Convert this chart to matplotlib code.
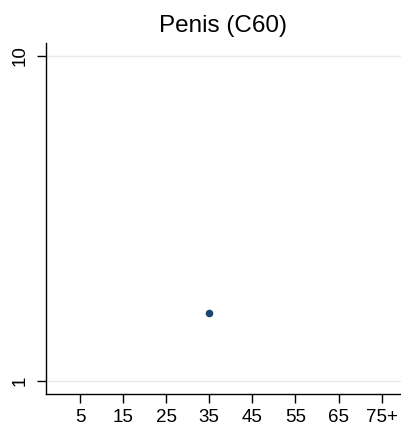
import matplotlib
matplotlib.use("Agg")
import matplotlib.pyplot as plt
from matplotlib.ticker import FixedLocator, NullLocator

plt.rcParams['font.family'] = ['Liberation Sans', 'DejaVu Sans']

# data
age_groups = [35]
rates = [1.62]
x_ticks = [5, 15, 25, 35, 45, 55, 65, 75]
x_labels = ['5', '15', '25', '35', '45', '55', '65', '75+']
y_ticks = [1, 10]

fig = plt.figure(figsize=(4.01, 4.25), dpi=100)
ax = fig.add_axes([0.1135, 0.073, 0.8865, 0.826])

ax.scatter(age_groups, rates, s=30, color='#1a476f', zorder=3, linewidths=0)

ax.set_yscale('log')
ax.set_xlim(-3, 79.5)
ax.set_ylim(10 ** -0.04, 10 ** 1.04)

ax.xaxis.set_major_locator(FixedLocator(x_ticks))
ax.set_xticklabels(x_labels, fontsize=13.5)
ax.xaxis.set_minor_locator(NullLocator())
ax.yaxis.set_major_locator(FixedLocator(y_ticks))
ax.yaxis.set_minor_locator(NullLocator())
ax.set_yticklabels(['1', '10'], fontsize=13.5, rotation=90, va='center')

for y in y_ticks:
    ax.axhline(y, color='#eaeaea', linewidth=1, zorder=1)

ax.spines['top'].set_visible(False)
ax.spines['right'].set_visible(False)
for side in ['left', 'bottom']:
    ax.spines[side].set_linewidth(1.0)
ax.tick_params(axis='both', direction='out', length=6.5, width=1.0, color='black')
ax.tick_params(axis='x', pad=4)
ax.tick_params(axis='y', pad=6)

ax.set_title('Penis (C60)', fontsize=17.5, pad=8)

fig.savefig('out.png', dpi=100)
